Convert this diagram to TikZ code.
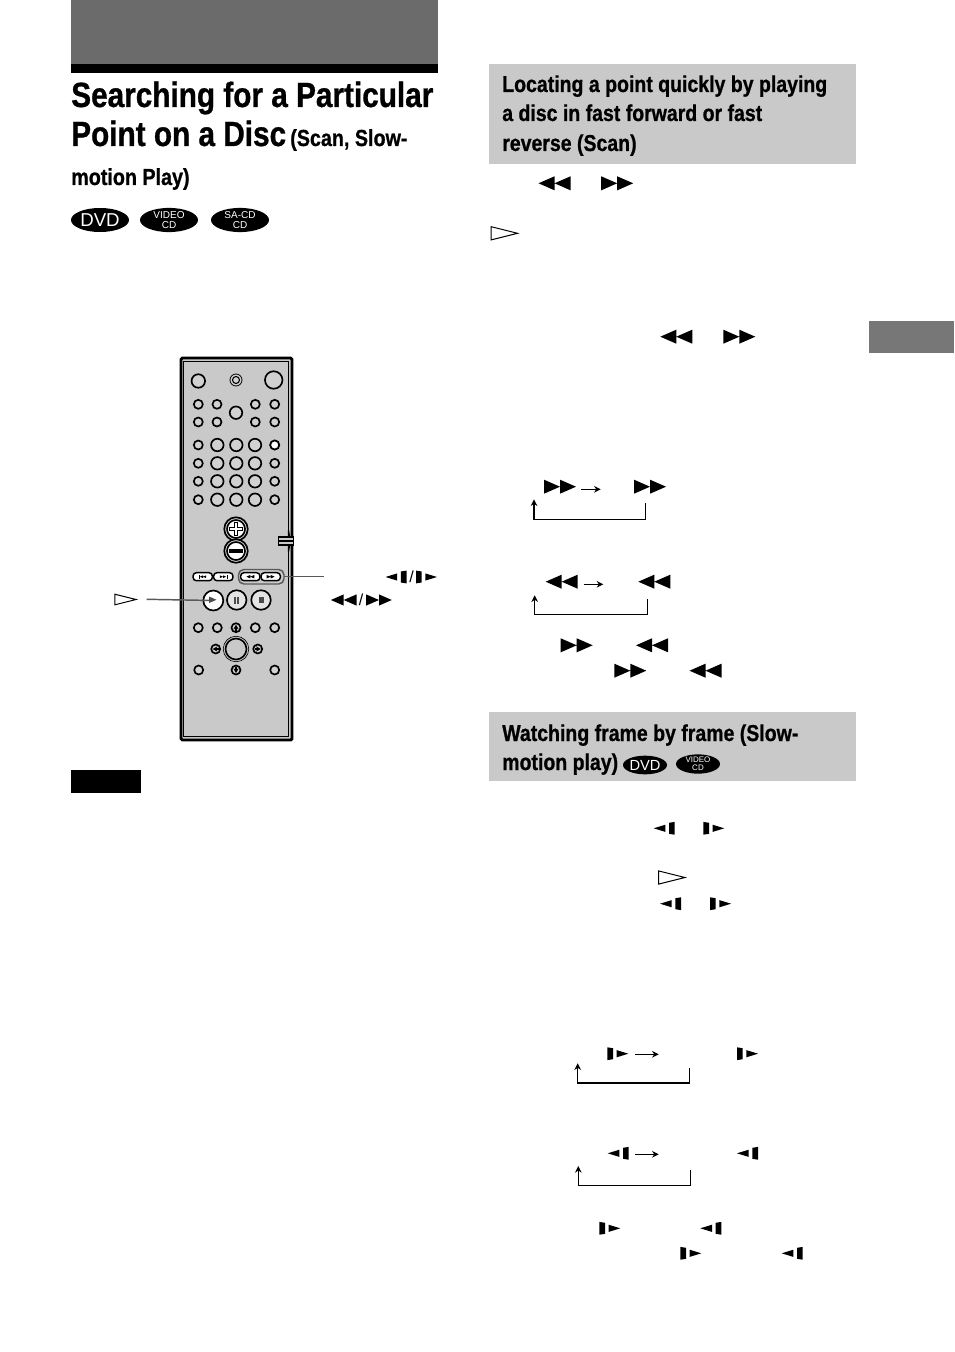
\documentclass[tikz,border=0pt]{standalone}
\usepackage{fontspec}
\usetikzlibrary{arrows.meta,shapes.geometric}
\setmainfont{Liberation Sans}
\newfontfamily\headfont{Liberation Sans}[FakeStretch=0.85,BoldFeatures={FakeBold=0.8}]
\definecolor{panelgray}{HTML}{C9C9C9}
\definecolor{bannergray}{HTML}{6B6B6B}
\definecolor{tabgray}{HTML}{777777}
\tikzset{
  heading/.style={anchor=base west,inner sep=0pt,font=\headfont\bfseries\fontsize{#1}{#1}\selectfont},
  disc/.style={ellipse,fill=black,text=white,inner sep=0pt,minimum width=43.5pt,minimum height=18pt,align=center},
  btn/.style={circle,draw=black,line width=1.25pt,fill=panelgray!85,inner sep=0pt,minimum size=#1*0.75pt},
  pill/.style={rounded corners=2.5pt,draw=black,line width=1.1pt,fill=#1,inner sep=0pt,minimum width=14.5pt,minimum height=6pt},
  leader/.style={draw=black!65,line width=1.1pt},
  stepline/.style={line width=0.9pt},
  looparrow/.style={stepline,-{Stealth[length=5pt,width=5pt]}},
  rewsym/.pic={\fill (-16,0) -- (0,-7) -- (0,7) -- cycle (0,0) -- (16,-7) -- (16,7) -- cycle;},
  fwdsym/.pic={\fill (16,0) -- (0,-7) -- (0,7) -- cycle (0,0) -- (-16,-7) -- (-16,7) -- cycle;},
  slowbsym/.pic={\fill (-10.5,0) -- (1.2,-3.6) -- (1.2,3.6) -- cycle (4.8,-5.5) -- (10.5,-6.4) -- (10.5,6.4) -- (4.8,5.5) -- cycle;},
  slowfsym/.pic={\fill (10.5,0) -- (-1.2,-3.6) -- (-1.2,3.6) -- cycle (-4.8,-5.5) -- (-10.5,-6.4) -- (-10.5,6.4) -- (-4.8,5.5) -- cycle;},
  playsym/.pic={\draw[line width=0.75pt,fill=white] (-13.2,-6.6) -- (13.2,0) -- (-13.2,6.6) -- cycle;},
}
\begin{document}
\begin{tikzpicture}[x=0.75pt,y=-0.75pt]
  \useasboundingbox (0,0) rectangle (954,1352);

  % banner and side tab
  \fill[bannergray] (71,0) rectangle (438,64);
  \fill[black] (71,64) rectangle (438,73);
  \fill[tabgray] (869,321) rectangle (954,353);

  % left title
  \node[heading=26.25pt] (T1) at (71,107) {Searching for a Particular};
  \node[heading=26.25pt] (T2) at (71,146) {Point on a Disc};
  \node[heading=17.4pt] (T3) at (290,146) {(Scan, Slow-};
  \node[heading=17.4pt] (T4) at (71,185) {motion Play)};
  \node[disc,font=\fontsize{14}{14}\selectfont] (D1) at (100,220) {DVD};
  \node[disc,font=\fontsize{7.5}{7.5}\selectfont] (D2) at (169,220) {VIDEO\\CD};
  \node[disc,font=\fontsize{7.5}{7.5}\selectfont] (D3) at (240,220) {SA-CD\\CD};

  % remote body
  \draw[line width=2.2pt,fill=panelgray,rounded corners=1pt] (181,358) rectangle (292,740);
  \draw[line width=0.6pt] (183.5,361.5) rectangle (288,736);
  \draw[line width=0.8pt,fill=white] (288.5,530) -- (290.5,541) -- (288.5,552) -- cycle;
  \node[draw,line width=0.8pt,fill=panelgray,inner sep=0pt,minimum width=11.5pt,minimum height=6pt] (SW) at (286,541) {};
  \draw[line width=0.8pt] (SW.west) -- (SW.east);

  % remote buttons
  \node[btn=13.5] (R1) at (198.3,381) {};
  \node[btn=12,line width=0.6pt] (R2) at (236,380) {};
  \node[btn=7,line width=0.8pt] (R2i) at (236,380) {};
  \node[btn=17.5] (R3) at (273.7,380) {};
  \foreach \y/\n in {404.3/a,422/b} {
    \foreach \x/\m in {198.3/1,217/2,255.3/3,274.7/4}
      \node[btn=9] (K\n\m) at (\x,\y) {};
  }
  \node[btn=12.5] (KC) at (236,412.7) {};
  \foreach \y/\n in {445/a,463.3/b,481.3/c,499.7/d} {
    \node[btn=9] (G\n1) at (198.3,\y) {};
    \foreach \x/\m in {217.3/2,236.3/3,255/4}
      \node[btn=12.5] (G\n\m) at (\x,\y) {};
    \node[btn=9] (G\n5) at (274.7,\y) {};
  }
  \node[btn=9,fill=white] (Gw) at (274.7,445) {};

  % plus and minus
  \node[btn=23.5] (Po) at (236,529) {};
  \node[btn=18,fill=white] (Pi) at (236,529) {};
  \draw[line width=3.4pt] (229,529) -- (243,529) (236,522) -- (236,536);
  \draw[line width=1.2pt,white] (230,529) -- (242,529) (236,523) -- (236,535);
  \node[btn=23.5] (Mo) at (236,551) {};
  \node[btn=18,fill=white] (Mi) at (236,551) {};
  \draw[line width=3.4pt] (229,551) -- (243,551);

  % transport pills
  \node[pill=white] (S1) at (202.7,576.7) {};
  \node[pill=white] (S2) at (223.3,576.7) {};
  \pic[scale=0.2] at (203,576.7) {rewsym};
  \fill (198.7,574.7) rectangle (199.7,578.7);
  \pic[scale=0.2] at (223,576.7) {fwdsym};
  \fill (226.5,574.7) rectangle (227.5,578.7);
  \draw[black!65,line width=1.1pt,rounded corners=4pt] (238.5,569.5) rectangle (284,584);
  \node[pill=white] (S3) at (250.3,576.7) {};
  \node[pill=white] (S4) at (270.7,576.7) {};
  \pic[scale=0.25] at (250.3,576.7) {rewsym};
  \pic[scale=0.25] at (270.7,576.7) {fwdsym};

  \node[btn=20,fill=white] (P1) at (213.3,600.5) {};
  \node[btn=19.5,fill=panelgray!50] (P2) at (236.7,600) {};
  \node[btn=19.5,fill=panelgray!50] (P3) at (261,600) {};
  \draw[line width=1.6pt,black!70] (235.2,596.5) -- (235.2,603.5) (238.2,596.5) -- (238.2,603.5);
  \fill[black!70] (258.5,597) rectangle (263.5,603);

  % lower cluster
  \foreach \x/\m in {198.3/1,217.3/2,255.3/4,274.7/5}
    \node[btn=9] (L\m) at (\x,627.7) {};
  \node[btn=9] (A1) at (236,627.7) {};
  \node[btn=9] (A2) at (215.7,649) {};
  \node[btn=9] (A3) at (257.7,649) {};
  \node[btn=9] (A4) at (236,670) {};
  \draw[line width=1.1pt,-{Stealth[length=3.5pt,width=4pt]}] (A1.center) ++(0,3) -- ++(0,-6);
  \draw[line width=1.1pt,-{Stealth[length=3.5pt,width=4pt]}] (A4.center) ++(0,-3) -- ++(0,6);
  \draw[line width=1.1pt,-{Stealth[length=3.5pt,width=4pt]}] (A2.center) ++(3,0) -- ++(-6,0);
  \draw[line width=1.1pt,-{Stealth[length=3.5pt,width=4pt]}] (A3.center) ++(-3,0) -- ++(6,0);
  \node[btn=25.5,line width=0.5pt] (OKo) at (236,649) {};
  \node[btn=21,fill=panelgray] (OK) at (236,649) {};
  \node[btn=9] (E1) at (198.7,670) {};
  \node[btn=9] (E2) at (274.7,670) {};

  % remote callouts
  \coordinate (leadA) at (324,576.7);
  \coordinate (leadB) at (146.7,599.3);
  \draw[leader] (284,576.7) -- (leadA);
  \draw[leader] (leadB) -- (P1.center);
  \fill[black!70] (209,596.5) -- (216.5,599.8) -- (209,603) -- cycle;
  \pic[scale=0.8] at (125.5,599.5) {playsym};
  \pic at (396,577) {slowbsym};
  \node[font=\fontsize{12}{12}\selectfont,inner sep=0pt] (SA) at (411.5,577) {/};
  \pic at (426.5,577) {slowfsym};
  \pic[scale=0.8] at (343.7,600) {rewsym};
  \node[font=\fontsize{12}{12}\selectfont,inner sep=0pt] (SB) at (361,600) {/};
  \pic[scale=0.8] at (379,600) {fwdsym};

  % notes bar
  \fill[black] (71,770) rectangle (141,793);

  % right column boxes
  \fill[panelgray] (489,64) rectangle (856,164);
  \node[heading=17.2pt] (H1) at (502,92) {Locating a point quickly by playing};
  \node[heading=17.2pt] (H2) at (502,121) {a disc in fast forward or fast};
  \node[heading=17.2pt] (H3) at (502,151) {reverse (Scan)};
  \fill[panelgray] (489,712) rectangle (856,781);
  \node[heading=17.2pt] (H4) at (502,741) {Watching frame by frame (Slow-};
  \node[heading=17.2pt] (H5) at (502,770) {motion play)};
  \node[disc,minimum width=33pt,minimum height=14pt,font=\fontsize{11}{11}\selectfont] (D4) at (645,765) {DVD};
  \node[disc,minimum width=33pt,minimum height=14pt,font=\fontsize{6}{6}\selectfont] (D5) at (698,764) {VIDEO\\CD};

  % scan symbols
  \pic at (554.5,183.3) {rewsym};
  \pic at (617.2,183.3) {fwdsym};
  \pic at (504.4,233.3) {playsym};
  \pic at (676.3,336.7) {rewsym};
  \pic at (739.3,336.7) {fwdsym};
  \pic at (560,486.7) {fwdsym};
  \pic at (650,486.7) {fwdsym};
  \pic at (561.7,581.7) {rewsym};
  \pic at (654.3,581.7) {rewsym};
  \pic at (576.7,645.3) {fwdsym};
  \pic at (652,645.3) {rewsym};
  \pic at (630.3,670.7) {fwdsym};
  \pic at (705.5,670.7) {rewsym};

  % scan loops
  \coordinate (a1) at (581,489.3);
  \coordinate (a2) at (600.7,489.3);
  \coordinate (b1) at (583.7,584.3);
  \coordinate (b2) at (603.3,584.3);
  \draw[looparrow] (a1) -- (a2);
  \draw[looparrow] (b1) -- (b2);
  \coordinate (c1) at (645.7,503.3);
  \coordinate (c2) at (645.7,519.3);
  \coordinate (c3) at (534,519.3);
  \coordinate (c4) at (534,499.3);
  \draw[looparrow] (c1) -- (c2) -- (c3) -- (c4);
  \coordinate (d1) at (647.3,599.3);
  \coordinate (d2) at (647.3,614.3);
  \coordinate (d3) at (534.7,614.3);
  \coordinate (d4) at (534.7,595.3);
  \draw[looparrow] (d1) -- (d2) -- (d3) -- (d4);

  % slow symbols
  \pic at (664.2,828.3) {slowbsym};
  \pic at (713.8,828.3) {slowfsym};
  \pic at (671.7,877.5) {playsym};
  \pic at (670.5,903.7) {slowbsym};
  \pic at (720.5,903.7) {slowfsym};
  \pic at (617.8,1053.7) {slowfsym};
  \pic at (747.5,1053.7) {slowfsym};
  \pic at (618.2,1153.3) {slowbsym};
  \pic at (747.5,1153.3) {slowbsym};
  \pic at (609.8,1228.3) {slowfsym};
  \pic at (710.8,1228.3) {slowbsym};
  \pic at (690.8,1253.3) {slowfsym};
  \pic at (792.2,1253.3) {slowbsym};

  % slow loops
  \coordinate (e1) at (635.3,1054.3);
  \coordinate (e2) at (658.7,1054.3);
  \coordinate (f1) at (635.3,1154.3);
  \coordinate (f2) at (658.7,1154.3);
  \draw[looparrow] (e1) -- (e2);
  \draw[looparrow] (f1) -- (f2);
  \coordinate (g1) at (689.3,1068.3);
  \coordinate (g2) at (689.3,1083);
  \coordinate (g3) at (577.7,1083);
  \coordinate (g4) at (577.7,1063.3);
  \draw[looparrow] (g1) -- (g2) -- (g3) -- (g4);
  \coordinate (h1) at (690.3,1170);
  \coordinate (h2) at (690.3,1185.3);
  \coordinate (h3) at (578.3,1185.3);
  \coordinate (h4) at (578.3,1166);
  \draw[looparrow] (h1) -- (h2) -- (h3) -- (h4);
\end{tikzpicture}
\end{document}
